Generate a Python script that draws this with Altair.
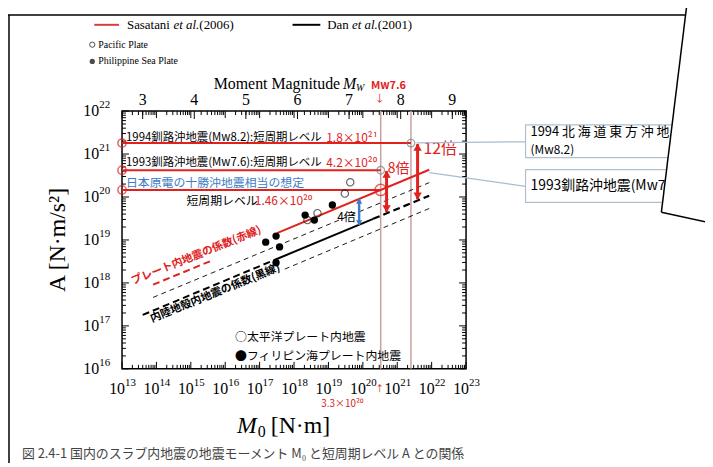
import altair as alt
import pandas as pd

W, H = 347, 260
SERIF = "Liberation Serif"
JP = "Noto Sans CJK JP"
RED = "#e0211d"
BLUE = "#3d7cc4"

# ---------------- values ----------------
pacific_M0 = [4.3e19, 3.0e19, 4.8e18, 2.45e18]
pacific_A = [2.2e20, 1.2e20, 4.2e19, 2.9e19]
philippine_M0 = [2.1e18, 3.9e18, 1.3e19, 1.5e17, 3.0e17, 3.8e17, 3.0e17]
philippine_A = [3.8e19, 2.9e19, 6.5e19, 8.9e18, 1.23e19, 6.9e18, 2.95e18]

sasatani_M0 = [3.2e17, 8.5e21]
sasatani_A = [1.44e19, 4.3e20]
sasatani_ext_M0 = [8.0e13, 4.0e15]
sasatani_ext_A = [9.1e17, 3.3e18]
dan_M0 = [2.8e17, 2.0e20]
dan_A = [3.47e18, 3.1e19]
dan_hi_M0 = [2.0e20, 8.5e21]
dan_hi_A = [3.1e19, 1.07e20]
dan_lo_M0 = [4.0e13, 2.8e17]
dan_lo_A = [1.8e17, 3.47e18]
dan_x2_M0 = [8.0e13, 8.5e21]
dan_x2_A = [4.6e17, 2.16e20]
dan_half_M0 = [5.4e17, 8.5e21]
dan_half_A = [2.1e18, 5.4e19]

level_A = [1.8e21, 4.2e20, 1.46e20]
level_M0 = [2.5e21, 3.3e20, 3.3e20]
vline_M0 = [3.3e20, 2.5e21]

arrow_red_M0 = [4.9e20, 3.9e21]
arrow_red_top = [4.0e20, 1.7e21]
arrow_red_bot = [4.5e19, 8.9e19]
arrow_blue_M0 = [7.8e19]
arrow_blue_top = [9.0e19]
arrow_blue_bot = [2.25e19]

x_exps = list(range(13, 24))
y_exps = list(range(16, 23))
mw_labels = [3, 4, 5, 6, 7, 8, 9]

XS = alt.Scale(type="log", domain=[1e13, 1e23])
YS = alt.Scale(type="log", domain=[1e16, 1e22])
dummy = pd.DataFrame({"d": [0]})


def X(f="M0"):
    return alt.X(f"{f}:Q", scale=XS, axis=None)


def Y(f="A"):
    return alt.Y(f"{f}:Q", scale=YS, axis=None)


def line(M0, A, color, width, dash=None):
    kw = dict(color=color, strokeWidth=width)
    if dash:
        kw["strokeDash"] = dash
    return alt.Chart(pd.DataFrame({"M0": M0, "A": A})).mark_line(**kw).encode(x=X(), y=Y())


def txt(s, x, y, **kw):
    return alt.Chart(dummy).mark_text(text=s, **kw).encode(x=alt.value(x), y=alt.value(y))


def seg(x1, y1, x2, y2, **kw):
    return alt.Chart(dummy).mark_rule(**kw).encode(
        x=alt.value(x1), y=alt.value(y1), x2=alt.value(x2), y2=alt.value(y2))


layers = []

# ---------- outer frame and legend ----------
layers.append(seg(-115, -97, 570, -97, color="black", strokeWidth=1.5))
layers.append(seg(-114, -97, -114, 360, color="black", strokeWidth=1.5))
layers.append(seg(-28, -87, -3, -87, color="#d04040", strokeWidth=2))
layers.append(txt("Sasatani", 5, -87, align="left", baseline="middle", font=SERIF, fontSize=13))
layers.append(txt("et al.", 52, -87, align="left", baseline="middle", font=SERIF, fontSize=13, fontStyle="italic"))
layers.append(txt("(2006)", 78, -87, align="left", baseline="middle", font=SERIF, fontSize=13))
layers.append(seg(172, -87, 200, -87, color="black", strokeWidth=2))
layers.append(txt("Dan", 207, -87, align="left", baseline="middle", font=SERIF, fontSize=13))
layers.append(txt("et al.", 232, -87, align="left", baseline="middle", font=SERIF, fontSize=13, fontStyle="italic"))
layers.append(txt("(2001)", 258, -87, align="left", baseline="middle", font=SERIF, fontSize=13))
layers.append(alt.Chart(dummy).mark_point(shape="circle", filled=False, color="black", size=28, strokeWidth=1)
              .encode(x=alt.value(-30), y=alt.value(-67)))
layers.append(txt("Pacific Plate", -24, -67, align="left", baseline="middle", font=SERIF, fontSize=10))
layers.append(alt.Chart(dummy).mark_point(shape="circle", filled=True, color="black", size=28)
              .encode(x=alt.value(-30), y=alt.value(-50)))
layers.append(txt("Philippine Sea Plate", -24, -50, align="left", baseline="middle", font=SERIF, fontSize=10))

# ---------- axes: ticks ----------
x_minor = [k * 10.0 ** n for n in range(13, 23) for k in range(2, 10)]
x_major = [10.0 ** n for n in x_exps]
y_minor = [k * 10.0 ** n for n in range(16, 22) for k in range(2, 10)]
y_major = [10.0 ** n for n in y_exps]
mw_M0 = [10 ** (1.5 * m + 9.1) for m in mw_labels]

for vals, L in ((x_minor, 4), (x_major, 7)):
    d = pd.DataFrame({"M0": vals})
    layers.append(alt.Chart(d).mark_rule(color="black", strokeWidth=1).encode(x=X(), y=alt.value(H), y2=alt.value(H - L)))
    layers.append(alt.Chart(d).mark_rule(color="black", strokeWidth=1).encode(x=X(), y=alt.value(0), y2=alt.value(L)))
layers.append(alt.Chart(pd.DataFrame({"M0": mw_M0})).mark_rule(color="black", strokeWidth=1)
              .encode(x=X(), y=alt.value(0), y2=alt.value(8)))
for vals, L in ((y_minor, 4), (y_major, 7)):
    d = pd.DataFrame({"A": vals})
    layers.append(alt.Chart(d).mark_rule(color="black", strokeWidth=1).encode(y=Y(), x=alt.value(0), x2=alt.value(L)))
    layers.append(alt.Chart(d).mark_rule(color="black", strokeWidth=1).encode(y=Y(), x=alt.value(W), x2=alt.value(W - L)))

# ---------- axes: labels ----------
xl = pd.DataFrame({"M0": x_major, "e": [str(e) for e in x_exps]})
layers.append(alt.Chart(xl).mark_text(text="10", align="right", dx=3, baseline="middle", font=SERIF, fontSize=16)
              .encode(x=X(), y=alt.value(H + 20)))
layers.append(alt.Chart(xl).mark_text(align="left", dx=3, dy=-6, baseline="middle", font=SERIF, fontSize=11)
              .encode(x=X(), y=alt.value(H + 20), text="e:N"))
yl = pd.DataFrame({"A": y_major, "e": [str(e) for e in y_exps]})
layers.append(alt.Chart(yl).mark_text(text="10", align="right", baseline="middle", font=SERIF, fontSize=16)
              .encode(y=Y(), x=alt.value(-23)))
layers.append(alt.Chart(yl).mark_text(align="left", dy=-6, baseline="middle", font=SERIF, fontSize=11)
              .encode(y=Y(), x=alt.value(-23), text="e:N"))
ml = pd.DataFrame({"M0": mw_M0, "m": [str(m) for m in mw_labels]})
layers.append(alt.Chart(ml).mark_text(baseline="bottom", font=SERIF, fontSize=16)
              .encode(x=X(), y=alt.value(-3), text="m:N"))

# titles
layers.append(txt("Moment Magnitude", 220, -27, align="right", baseline="middle", font=SERIF, fontSize=16))
layers.append(txt("M", 223, -27, align="left", baseline="middle", font=SERIF, fontSize=16, fontStyle="italic"))
layers.append(txt("W", 236, -23, align="left", baseline="middle", font=SERIF, fontSize=10, fontStyle="italic"))
layers.append(txt("Mw7.6", 251, -25, align="left", baseline="middle", font=JP, fontSize=11, fontWeight="bold", color=RED))
layers.append(txt("↓", 260, -12, align="center", baseline="middle", font=JP, fontSize=10, color=RED))
layers.append(txt("A [N·m/s²]", -65, 130, align="center", baseline="middle", font=SERIF, fontSize=24, angle=270))
layers.append(txt("M", 116, 318, align="left", baseline="middle", font=SERIF, fontSize=24, fontStyle="italic"))
layers.append(txt("0", 137, 324, align="left", baseline="middle", font=SERIF, fontSize=16))
layers.append(txt("[N·m]", 150, 318, align="left", baseline="middle", font=SERIF, fontSize=24))
layers.append(txt("3.3×10²⁰", 222, 295, align="center", baseline="middle", font=JP, fontSize=10, color=RED))
layers.append(txt("↑", 260, 280, align="center", baseline="middle", font=JP, fontSize=9, color=RED))
layers.append(txt("図 2.4-1 国内のスラブ内地震の地震モーメント M₀ と短周期レベル A との関係", -101, 346,
                  align="left", baseline="middle", font=JP, fontSize=13, color="#444444"))

# ---------- vertical reference lines ----------
layers.append(alt.Chart(pd.DataFrame({"M0": vline_M0})).mark_rule(color="#c9a0a0", strokeWidth=1.5)
              .encode(x=X(), y=alt.value(0), y2=alt.value(H)))

# ---------- scaling lines ----------
layers.append(line(dan_x2_M0, dan_x2_A, "black", 0.9, [5, 4]))
layers.append(line(dan_half_M0, dan_half_A, "black", 0.9, [5, 4]))
layers.append(line(dan_lo_M0, dan_lo_A, "black", 2, [7, 4]))
layers.append(line(dan_M0, dan_A, "black", 2))
layers.append(line(dan_hi_M0, dan_hi_A, "black", 2.2, [7, 4]))
layers.append(line(sasatani_ext_M0, sasatani_ext_A, RED, 2, [7, 4]))
layers.append(line(sasatani_M0, sasatani_A, RED, 2))

# ---------- level lines ----------
lv = pd.DataFrame({"A": level_A, "M0": [1e13] * 3, "M1": level_M0})
layers.append(alt.Chart(lv).mark_rule(color=RED, strokeWidth=2).encode(x=X(), x2="M1:Q", y=Y()))
layers.append(alt.Chart(lv).mark_point(shape="circle", filled=False, color=RED, size=70, strokeWidth=1.5)
              .encode(x=X(), y=Y()))
layers.append(alt.Chart(pd.DataFrame({"M0": level_M0[:2], "A": level_A[:2]}))
              .mark_point(shape="circle", filled=False, color="#777777", size=60, strokeWidth=1.2).encode(x=X(), y=Y()))
layers.append(alt.Chart(pd.DataFrame({"M0": level_M0[2:], "A": level_A[2:]}))
              .mark_point(shape="circle", filled=False, color=RED, size=130, strokeWidth=1.5).encode(x=X(), y=Y()))

# ---------- data points ----------
layers.append(alt.Chart(pd.DataFrame({"M0": pacific_M0, "A": pacific_A}))
              .mark_point(shape="circle", filled=False, color="#222222", size=55, strokeWidth=1.2).encode(x=X(), y=Y()))
layers.append(alt.Chart(pd.DataFrame({"M0": philippine_M0, "A": philippine_A}))
              .mark_point(shape="circle", filled=True, color="black", size=55, opacity=1).encode(x=X(), y=Y()))

# ---------- arrows ----------
ar = pd.DataFrame({"M0": arrow_red_M0, "A": arrow_red_top, "A2": arrow_red_bot})
layers.append(alt.Chart(ar).mark_rule(color=RED, strokeWidth=3).encode(x=X(), y=Y(), y2="A2:Q"))
layers.append(alt.Chart(ar).mark_point(shape="triangle-up", filled=True, color=RED, size=70, opacity=1, yOffset=3)
              .encode(x=X(), y=Y()))
layers.append(alt.Chart(ar).mark_point(shape="triangle-down", filled=True, color=RED, size=70, opacity=1, yOffset=-3)
              .encode(x=X(), y=Y("A2")))
ab = pd.DataFrame({"M0": arrow_blue_M0, "A": arrow_blue_top, "A2": arrow_blue_bot})
layers.append(alt.Chart(ab).mark_rule(color=BLUE, strokeWidth=2.5).encode(x=X(), y=Y(), y2="A2:Q"))
layers.append(alt.Chart(ab).mark_point(shape="triangle-up", filled=True, color=BLUE, size=40, opacity=1, yOffset=2)
              .encode(x=X(), y=Y()))
layers.append(alt.Chart(ab).mark_point(shape="triangle-down", filled=True, color=BLUE, size=40, opacity=1, yOffset=-2)
              .encode(x=X(), y=Y("A2")))

# ---------- annotations inside the plot ----------
layers.append(txt("1994釧路沖地震(Mw8.2):短周期レベル", 4, 27, align="left", baseline="middle", font=JP, fontSize=11.5))
layers.append(txt("1.8×10²¹", 206, 27, align="left", baseline="middle", font=JP, fontSize=12, color=RED))
layers.append(txt("1993釧路沖地震(Mw7.6):短周期レベル", 4, 52, align="left", baseline="middle", font=JP, fontSize=11.5))
layers.append(txt("4.2×10²⁰", 206, 52, align="left", baseline="middle", font=JP, fontSize=12, color=RED))
layers.append(txt("日本原電の十勝沖地震相当の想定", 4, 73, align="left", baseline="middle", font=JP, fontSize=12, color=BLUE))
layers.append(txt("短周期レベル", 65, 91, align="left", baseline="middle", font=JP, fontSize=12))
layers.append(txt("1.46×10²⁰", 134, 91, align="left", baseline="middle", font=JP, fontSize=12, color=RED))
layers.append(txt("12倍", 304, 38, align="left", baseline="middle", font=JP, fontSize=16, color=RED))
layers.append(txt("8倍", 268, 58, align="left", baseline="middle", font=JP, fontSize=14, color=RED))
layers.append(txt("4倍", 217, 107, align="left", baseline="middle", font=JP, fontSize=12))
layers.append(txt("プレート内地震の係数(赤線)", 75, 146, align="center", baseline="middle", font=JP, fontSize=11,
                  fontWeight="bold", color=RED, angle=338))
layers.append(txt("内陸地殻内地震の係数(黒線)", 94, 184, align="center", baseline="middle", font=JP, fontSize=11,
                  fontWeight="bold", angle=338))
layers.append(txt("○太平洋プレート内地震", 114, 228, align="left", baseline="middle", font=JP, fontSize=12))
layers.append(txt("●フィリピン海プレート内地震", 114, 247, align="left", baseline="middle", font=JP, fontSize=12))

# ---------- callout boxes on the right ----------
layers.append(seg(297, 32, 407, 31, color="#a8bccf", strokeWidth=1.2))
layers.append(seg(310, 62, 407, 76, color="#a8bccf", strokeWidth=1.2))
for y1, y2 in ((14, 47), (59, 92)):
    layers.append(alt.Chart(dummy).mark_rect(fill="white", stroke="#b0bfcc", strokeWidth=1.2)
                  .encode(x=alt.value(407), x2=alt.value(620), y=alt.value(y1), y2=alt.value(y2)))
layers.append(txt("1994 北 海 道 東 方 沖 地 震", 412, 21, align="left", baseline="middle", font=JP, fontSize=13))
layers.append(txt("(Mw8.2)", 412, 39, align="left", baseline="middle", font=JP, fontSize=12))
layers.append(txt("1993釧路沖地震(Mw7.6)", 412, 76, align="left", baseline="middle", font=JP, fontSize=14))

# ---------- white sheet overlapping the right side ----------
layers.append(seg(607, -126, 578.7, 106.3, color="white", strokeWidth=70, strokeCap="butt"))
layers.append(seg(570, -110, 544, 102, color="black", strokeWidth=1.5))
layers.append(seg(544, 102, 590, 112, color="black", strokeWidth=1.5))

chart = alt.layer(*layers).properties(
    width=W, height=H,
    padding={"left": 115, "top": 102, "right": 241, "bottom": 93},
    autosize=alt.AutoSizeParams(type="none"),
    background="white",
).configure_view(stroke="black", strokeWidth=1.5)

chart.save("out.html", embed_options={"renderer": "svg", "actions": False})
